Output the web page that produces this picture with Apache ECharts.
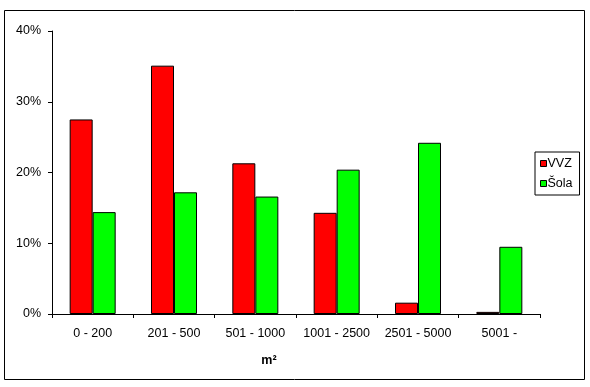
<!DOCTYPE html>
<html>
<head>
<meta charset="utf-8">
<script src="https://cdn.jsdelivr.net/npm/echarts@6/dist/echarts.min.js"></script>
<style>
html,body{margin:0;padding:0;background:#fff;}
#c{width:590px;height:387px;}
</style>
</head>
<body>
<div id="c"></div>
<script>
var categories = ['0 - 200', '201 - 500', '501 - 1000', '1001 - 2500', '2501 - 5000', '5001 -'];
var vvz = [27.5, 35.1, 21.3, 14.3, 1.6, 0.3];
var sola = [14.4, 17.2, 16.6, 20.4, 24.2, 9.5];
var seriesNames = ['VVZ', 'Šola'];
var font = '"Liberation Sans", Arial, sans-serif';

var chart = echarts.init(document.getElementById('c'), null, {renderer: 'canvas'});
chart.setOption({
  animation: false,
  backgroundColor: '#fff',
  textStyle: {fontFamily: font},
  graphic: [{
    type: 'rect',
    shape: {x: 4.5, y: 10.5, width: 580, height: 369},
    style: {fill: 'none', stroke: '#000', lineWidth: 1},
    silent: true
  }],
  legend: {
    orient: 'vertical',
    left: 535,
    top: 152,
    padding: [5, 7, 5, 5],
    borderColor: '#000',
    borderWidth: 1,
    itemWidth: 6,
    itemHeight: 6,
    itemGap: 7,
    icon: 'rect',
    itemStyle: {borderColor: '#000', borderWidth: 1},
    textStyle: {fontFamily: font, fontSize: 12.5, color: '#000', padding: [0, 0, 0, -4]},
    data: seriesNames
  },
  grid: {left: 52, top: 31, width: 488, height: 283, containLabel: false},
  xAxis: {
    type: 'category',
    data: categories,
    name: 'm²',
    nameLocation: 'middle',
    nameGap: 40,
    nameTextStyle: {fontFamily: font, fontSize: 12.5, fontWeight: 'bold', color: '#000', padding: [0, 54, 0, 0]},
    axisLine: {lineStyle: {color: '#000', width: 1}},
    axisTick: {show: true, length: 4, lineStyle: {color: '#000'}},
    axisLabel: {color: '#000', fontSize: 12.5, fontFamily: font, margin: 13, interval: 0}
  },
  yAxis: {
    type: 'value',
    min: 0,
    max: 40,
    interval: 10,
    axisLine: {show: true, lineStyle: {color: '#000', width: 1}},
    axisTick: {show: true, length: 4, lineStyle: {color: '#000'}},
    axisLabel: {color: '#000', fontSize: 12.5, fontFamily: font, margin: 11, formatter: '{value}%'},
    splitLine: {show: false}
  },
  series: [{
    name: seriesNames[0],
    type: 'bar',
    data: vvz,
    barWidth: 23,
    barGap: '0%',
    itemStyle: {color: '#ff0000', borderColor: '#000', borderWidth: 1}
  }, {
    name: seriesNames[1],
    type: 'bar',
    data: sola,
    barWidth: 23,
    barGap: '0%',
    itemStyle: {color: '#00ff00', borderColor: '#000', borderWidth: 1}
  }]
});
</script>
</body>
</html>
